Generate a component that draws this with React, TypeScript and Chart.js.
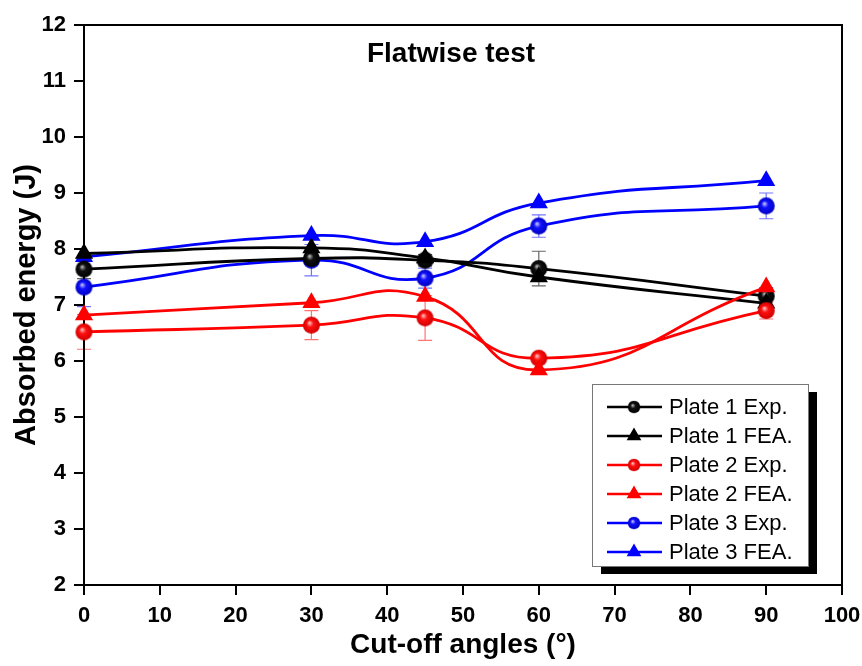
import React, { useEffect, useRef } from 'react';
import { Chart, registerables } from 'chart.js';

Chart.register(...registerables);

// ---------- data ----------
const angles = [0, 30, 45, 60, 90];

const plate1Exp = [7.64, 7.83, 7.8, 7.65, 7.16];
const plate1Fea = [7.92, 8.02, 7.84, 7.5, 7.03];
const plate2Exp = [6.52, 6.64, 6.77, 6.05, 6.9];
const plate2Fea = [6.82, 7.04, 7.15, 5.84, 7.32];
const plate3Exp = [7.32, 7.8, 7.48, 8.41, 8.77];
const plate3Fea = [7.86, 8.24, 8.13, 8.82, 9.22];

const plate1ExpErr = [0.17, 0.1, 0.1, 0.31, 0.15];
const plate2ExpErr = [0.31, 0.26, 0.4, 0.05, 0.15];
const plate3ExpErr = [0.35, 0.28, 0.18, 0.2, 0.23];

const seriesLabels = [
  'Plate 1 Exp.',
  'Plate 1 FEA.',
  'Plate 2 Exp.',
  'Plate 2 FEA.',
  'Plate 3 Exp.',
  'Plate 3 FEA.',
];

const xTicks = [0, 10, 20, 30, 40, 50, 60, 70, 80, 90, 100];
const yTicks = [2, 3, 4, 5, 6, 7, 8, 9, 10, 11, 12];

const chartTitle = 'Flatwise test';
const xTitle = 'Cut-off angles (°)';
const yTitle = 'Absorbed energy (J)';

// ---------- helpers ----------
function makeSphere(color: string, dark: string, light: string, r: number) {
  const size = Math.ceil(r * 2) + 2;
  const c = document.createElement('canvas');
  c.width = size;
  c.height = size;
  const ctx = c.getContext('2d') as CanvasRenderingContext2D;
  const cx = size / 2;
  const cy = size / 2;
  const g = ctx.createRadialGradient(cx - r * 0.25, cy - r * 0.3, 0, cx, cy, r);
  g.addColorStop(0, light);
  g.addColorStop(0.4, color);
  g.addColorStop(1, dark);
  ctx.fillStyle = g;
  ctx.beginPath();
  ctx.arc(cx, cy, r, 0, Math.PI * 2);
  ctx.fill();
  return c;
}

const toPts = (arr: number[]) => angles.map((a, i) => ({ x: a, y: arr[i] }));

const FONT = "'Liberation Sans', Arial, Helvetica, sans-serif";

export default function App() {
  const ref = useRef<HTMLCanvasElement | null>(null);

  useEffect(() => {
    document.body.style.margin = '0';
    const canvas = ref.current;
    if (!canvas) return;

    const black = '#000000';
    const red = '#ff0000';
    const blue = '#0000ff';

    const sphereBlack = makeSphere('#111111', '#000000', '#c8c8c8', 8.5);
    const sphereRed = makeSphere('#ff1010', '#d00000', '#ffd8d8', 8.5);
    const sphereBlue = makeSphere('#1010ff', '#0000c0', '#dcdcff', 8.5);

    const colors = [black, black, red, red, blue, blue];
    const markers: any[] = [sphereBlack, 'triangle', sphereRed, 'triangle', sphereBlue, 'triangle'];
    const errors: (number[] | null)[] = [plate1ExpErr, null, plate2ExpErr, null, plate3ExpErr, null];
    const series = [plate1Exp, plate1Fea, plate2Exp, plate2Fea, plate3Exp, plate3Fea];
    const orders = [3, 2, 1, 0, 5, 4];

    const datasets = series.map((s, i) => ({
      label: seriesLabels[i],
      data: toPts(s),
      borderColor: colors[i],
      backgroundColor: colors[i],
      borderWidth: 2.8,
      tension: 0.5,
      pointStyle: markers[i],
      pointRadius: markers[i] === 'triangle' ? 10.5 : 8.5,
      pointBorderWidth: 0,
      pointBackgroundColor: colors[i],
      clip: false as any,
      order: orders[i],
    }));

    const errorPlugin = {
      id: 'errorBars',
      beforeDatasetsDraw(chart: any) {
        const ctx = chart.ctx as CanvasRenderingContext2D;
        const xs = chart.scales.x;
        const ys = chart.scales.y;
        ctx.save();
        errors.forEach((err, di) => {
          if (!err) return;
          const c = colors[di];
          ctx.strokeStyle =
            c === black ? 'rgba(0,0,0,0.6)' : c === red ? 'rgba(255,0,0,0.55)' : 'rgba(0,0,255,0.55)';
          ctx.lineWidth = 1.2;
          series[di].forEach((v, i) => {
            const px = xs.getPixelForValue(angles[i]);
            const top = ys.getPixelForValue(v + err[i]);
            const bot = ys.getPixelForValue(v - err[i]);
            ctx.beginPath();
            ctx.moveTo(px, top);
            ctx.lineTo(px, bot);
            ctx.moveTo(px - 7, top);
            ctx.lineTo(px + 7, top);
            ctx.moveTo(px - 7, bot);
            ctx.lineTo(px + 7, bot);
            ctx.stroke();
          });
        });
        ctx.restore();
      },
    };

    const framePlugin = {
      id: 'frame',
      beforeDatasetsDraw(chart: any) {
        const { ctx, chartArea } = chart;
        ctx.save();
        ctx.strokeStyle = '#000';
        ctx.lineWidth = 2;
        ctx.strokeRect(chartArea.left, chartArea.top, chartArea.right - chartArea.left, chartArea.bottom - chartArea.top);
        ctx.fillStyle = '#000';
        ctx.font = `bold 28px ${FONT}`;
        ctx.textAlign = 'center';
        ctx.textBaseline = 'alphabetic';
        ctx.fillText(chartTitle, chartArea.left + 367, chartArea.top + 37);
        ctx.restore();
      },
    };

    const legendPlugin = {
      id: 'customLegend',
      afterDraw(chart: any) {
        const { ctx, chartArea } = chart;
        const w = 216;
        const h = 182;
        const left = chartArea.right - 34 - w;
        const top = chartArea.bottom - 19 - h;
        ctx.save();
        ctx.fillStyle = '#000';
        ctx.fillRect(left + 9, top + 8, w, h);
        ctx.fillStyle = '#fff';
        ctx.fillRect(left, top, w, h);
        ctx.strokeStyle = '#777';
        ctx.lineWidth = 1;
        ctx.strokeRect(left + 0.5, top + 0.5, w, h);
        ctx.font = `22px ${FONT}`;
        ctx.textAlign = 'left';
        ctx.textBaseline = 'middle';
        seriesLabels.forEach((lab, i) => {
          const y = top + 23 + i * 29;
          ctx.strokeStyle = colors[i];
          ctx.lineWidth = 2.5;
          ctx.beginPath();
          ctx.moveTo(left + 15, y);
          ctx.lineTo(left + 70, y);
          ctx.stroke();
          const mx = left + 42;
          const m = markers[i];
          if (m === 'triangle') {
            const r = 8.5;
            ctx.fillStyle = colors[i];
            ctx.beginPath();
            ctx.moveTo(mx, y - r);
            ctx.lineTo(mx + r * 0.866, y + r * 0.5);
            ctx.lineTo(mx - r * 0.866, y + r * 0.5);
            ctx.closePath();
            ctx.fill();
          } else {
            ctx.drawImage(m, mx - 7, y - 7, 14, 14);
          }
          ctx.fillStyle = '#000';
          ctx.fillText(lab, left + 77, y + 1);
        });
        ctx.restore();
      },
    };

    const chart = new Chart(canvas, {
      type: 'line',
      data: { datasets: datasets as any },
      plugins: [errorPlugin, framePlugin, legendPlugin],
      options: {
        animation: false,
        responsive: false,
        layout: { padding: { top: 25, right: 20, left: 0, bottom: 0 } },
        plugins: {
          legend: { display: false },
          tooltip: { enabled: false },
          title: { display: false },
        },
        scales: {
          x: {
            type: 'linear',
            min: 0,
            max: 100,
            afterFit(scale: any) {
              scale.height = 81;
              scale.paddingRight = 0;
              scale.paddingLeft = 0;
            },
            afterBuildTicks(scale: any) {
              scale.ticks = xTicks.map((v) => ({ value: v }));
            },
            grid: {
              display: true,
              drawOnChartArea: false,
              drawTicks: true,
              tickLength: 10,
              color: '#000',
              lineWidth: 2,
            },
            border: { display: true, color: '#000', width: 2 },
            ticks: {
              color: '#000',
              padding: 8,
              font: { family: FONT, size: 22, weight: 'bold' },
              maxRotation: 0,
            },
            title: {
              display: true,
              text: xTitle,
              color: '#000',
              font: { family: FONT, size: 28, weight: 'bold' },
              padding: { top: 0, bottom: 4 },
            },
          },
          y: {
            type: 'linear',
            min: 2,
            max: 12,
            afterFit(scale: any) {
              scale.width = 84;
              scale.paddingTop = 0;
              scale.paddingBottom = 0;
            },
            afterBuildTicks(scale: any) {
              scale.ticks = yTicks.map((v) => ({ value: v }));
            },
            grid: {
              display: true,
              drawOnChartArea: false,
              drawTicks: true,
              tickLength: 10,
              color: '#000',
              lineWidth: 2,
            },
            border: { display: true, color: '#000', width: 2 },
            ticks: {
              color: '#000',
              padding: 8,
              font: { family: FONT, size: 22, weight: 'bold' },
            },
            title: {
              display: true,
              text: yTitle,
              color: '#000',
              font: { family: FONT, size: 29, weight: 'bold' },
              padding: { top: 10, bottom: 0 },
            },
          },
        },
      } as any,
    });

    return () => {
      chart.destroy();
    };
  }, []);

  return (
    <div style={{ width: 862, height: 666 }}>
      <canvas ref={ref} width={862} height={666} style={{ display: 'block' }} />
    </div>
  );
}
